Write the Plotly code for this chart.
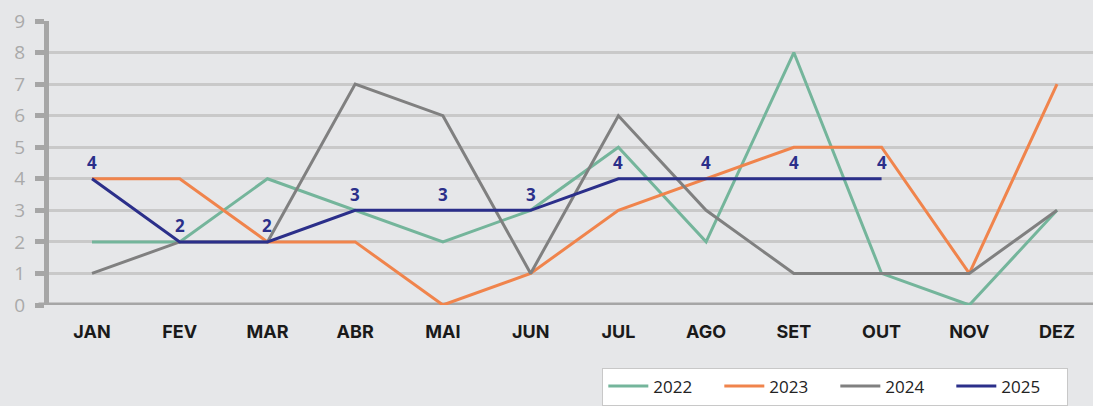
import plotly.graph_objects as go

months = ["JAN", "FEV", "MAR", "ABR", "MAI", "JUN", "JUL", "AGO", "SET", "OUT", "NOV", "DEZ"]
s2022 = [2, 2, 4, 3, 2, 3, 5, 2, 8, 1, 0, 3]
s2023 = [4, 4, 2, 2, 0, 1, 3, 4, 5, 5, 1, 7]
s2024 = [1, 2, 2, 7, 6, 1, 6, 3, 1, 1, 1, 3]
s2025 = [4, 2, 2, 3, 3, 3, 4, 4, 4, 4]
y_ticks = list(range(0, 10))

colors = {"2022": "#74b59b", "2023": "#f0844c", "2024": "#808080", "2025": "#2b2f8a"}

fig = go.Figure()
idx = list(range(len(months)))
for name, vals in [("2022", s2022), ("2023", s2023), ("2024", s2024), ("2025", s2025)]:
    fig.add_trace(go.Scatter(x=idx[:len(vals)], y=vals, name=name, mode="lines",
                             line=dict(color=colors[name], width=3)))

for i, v in enumerate(s2025):
    fig.add_annotation(x=i, y=v, text=str(v), showarrow=False, yshift=16,
                       font=dict(family="Open Sans", size=17, color=colors["2025"], weight="bold"))

fig.update_layout(
    width=1093, height=406,
    margin=dict(l=49, r=0, t=21, b=101),
    paper_bgcolor="#e6e7e9", plot_bgcolor="#e6e7e9",
    showlegend=True,
    legend=dict(orientation="h", x=0.53, y=-0.354, xanchor="left", yanchor="bottom",
                bgcolor="white", bordercolor="#c8c8c8", borderwidth=1,
                font=dict(family="Open Sans", size=17, color="#222"),
                entrywidth=61, entrywidthmode="pixels", traceorder="normal",
                itemwidth=40),
    xaxis=dict(range=[-0.49, 11.41], tickmode="array", tickvals=idx, ticktext=months,
               showgrid=False, zeroline=False, showline=False, ticks="",
               tickfont=dict(family="Inter", size=18, color="#1a1a1a", weight="bold"),
               ticklabelstandoff=14),
    yaxis=dict(range=[0, 9], tickmode="array", tickvals=y_ticks,
               showgrid=True, gridcolor="#c9c9c9", gridwidth=3, zeroline=False,
               showline=True, linecolor="#a6a6a6", linewidth=5,
               ticks="outside", ticklen=9, tickwidth=5, tickcolor="#a6a6a6",
               tickfont=dict(family="Open Sans", size=19, color="#aaaaaa"),
               ticklabelstandoff=6),
)
# thick bottom baseline
fig.add_shape(type="line", xref="paper", yref="y", x0=-0.01, x1=1, y0=0, y1=0,
              line=dict(color="#a6a6a6", width=5), layer="below")

fig.write_html("out.html", config={"displayModeBar": False},
               post_script="document.body.style.margin='0';")
